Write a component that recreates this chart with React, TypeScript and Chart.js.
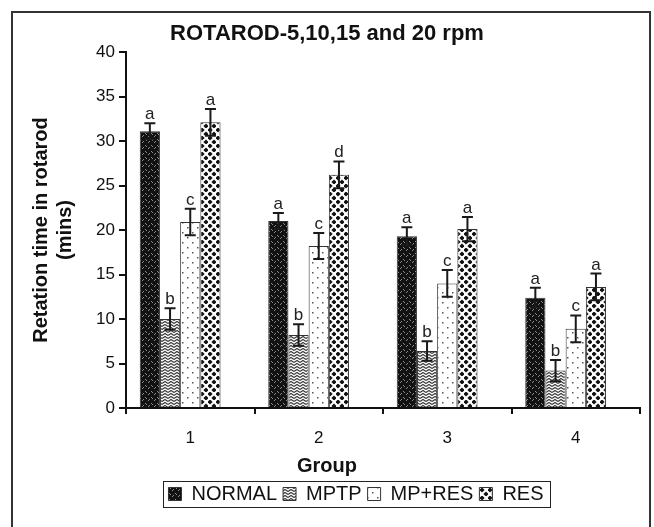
import React, { useEffect, useRef } from 'react';
import { Chart, registerables } from 'chart.js';

Chart.register(...registerables);

const categories = ['1', '2', '3', '4'];
const seriesNames = ['NORMAL', 'MPTP', 'MP+RES', 'RES'];

const normalValues = [31.1, 21.0, 19.3, 12.4];
const mptpValues = [10.0, 8.2, 6.4, 4.2];
const mpresValues = [20.9, 18.2, 14.0, 8.9];
const resValues = [32.1, 26.2, 20.1, 13.6];

const normalErrors = [0.9, 0.9, 1.0, 1.1];
const mptpErrors = [1.2, 1.2, 1.1, 1.2];
const mpresErrors = [1.5, 1.45, 1.5, 1.5];
const resErrors = [1.5, 1.5, 1.35, 1.5];

const normalLetters = ['a', 'a', 'a', 'a'];
const mptpLetters = ['b', 'b', 'b', 'b'];
const mpresLetters = ['c', 'c', 'c', 'c'];
const resLetters = ['a', 'd', 'a', 'a'];

const yTicks = [0, 5, 10, 15, 20, 25, 30, 35, 40];

const FONT = '"Liberation Sans", Arial, sans-serif';

function makePattern(kind: string): CanvasPattern | string {
  const c = document.createElement('canvas');
  const g = c.getContext('2d');
  if (!g) return '#888';
  if (kind === 'normal') {
    c.width = 6; c.height = 6;
    g.fillStyle = '#121212'; g.fillRect(0, 0, 6, 6);
    g.fillStyle = '#8a8a8a';
    g.fillRect(1, 1, 1, 1); g.fillRect(2, 2, 1, 1);
    g.fillRect(4, 4, 1, 1); g.fillRect(5, 3, 1, 1);
  } else if (kind === 'mptp') {
    c.width = 6; c.height = 6;
    g.fillStyle = '#ffffff'; g.fillRect(0, 0, 6, 6);
    g.strokeStyle = '#3a3a3a'; g.lineWidth = 1.2;
    g.beginPath();
    g.moveTo(0, 2.5); g.lineTo(3, 0.5); g.lineTo(6, 2.5);
    g.moveTo(0, 5.5); g.lineTo(3, 3.5); g.lineTo(6, 5.5);
    g.stroke();
  } else if (kind === 'mpres') {
    c.width = 10; c.height = 10;
    g.fillStyle = '#ffffff'; g.fillRect(0, 0, 10, 10);
    g.fillStyle = '#555';
    g.fillRect(2, 2, 1.5, 1.5); g.fillRect(7, 7, 1.5, 1.5);
  } else {
    c.width = 8; c.height = 8;
    g.fillStyle = '#ffffff'; g.fillRect(0, 0, 8, 8);
    g.fillStyle = '#111';
    const blob = (x: number, y: number) => {
      g.beginPath();
      g.moveTo(x, y - 2.6); g.lineTo(x + 2.6, y); g.lineTo(x, y + 2.6); g.lineTo(x - 2.6, y);
      g.closePath(); g.fill();
    };
    blob(2, 2); blob(6, 6); blob(10, -2); blob(-2, 10); blob(10, 10); blob(-2, -2);
  }
  const p = g.createPattern(c, 'repeat');
  return p || '#888';
}

const frameAndExtras = {
  id: 'frameAndExtras',
  afterLayout(chart: any) {
    const lg = chart.legend;
    if (lg) {
      lg.left += 29;
      lg.right += 29;
    }
  },
  afterDatasetsDraw(chart: any) {
    const ctx = chart.ctx;
    const yScale = chart.scales.y;
    const values = [normalValues, mptpValues, mpresValues, resValues];
    const errors = [normalErrors, mptpErrors, mpresErrors, resErrors];
    const letters = [normalLetters, mptpLetters, mpresLetters, resLetters];
    ctx.save();
    for (let d = 0; d < 4; d++) {
      const meta = chart.getDatasetMeta(d);
      meta.data.forEach((bar: any, i: number) => {
        const v = values[d][i];
        const e = errors[d][i];
        const yTop = yScale.getPixelForValue(v + e);
        const yBot = yScale.getPixelForValue(v - e);
        const x = bar.x;
        ctx.strokeStyle = '#1a1a1a';
        ctx.lineWidth = 2;
        ctx.beginPath();
        ctx.moveTo(x, yTop); ctx.lineTo(x, yBot);
        ctx.moveTo(x - 5.5, yTop); ctx.lineTo(x + 5.5, yTop);
        ctx.moveTo(x - 5.5, yBot); ctx.lineTo(x + 5.5, yBot);
        ctx.stroke();
        ctx.fillStyle = '#222';
        ctx.font = '17px ' + FONT;
        ctx.textAlign = 'center';
        ctx.textBaseline = 'alphabetic';
        ctx.fillText(letters[d][i], x, yTop - 4);
      });
    }
    ctx.restore();
  },
  afterDraw(chart: any) {
    const ctx = chart.ctx;
    ctx.save();
    const lg = chart.legend;
    if (lg && lg.legendHitBoxes && lg.legendHitBoxes.length) {
      const hb = lg.legendHitBoxes;
      let l = Infinity, r = -Infinity, t = Infinity, b = -Infinity;
      hb.forEach((h: any) => {
        l = Math.min(l, h.left); r = Math.max(r, h.left + h.width);
        t = Math.min(t, h.top); b = Math.max(b, h.top + h.height);
      });
      ctx.strokeStyle = '#222';
      ctx.lineWidth = 1;
      ctx.strokeRect(Math.round(l - 5) + 0.5, Math.round(t - 3) + 0.5, Math.round(r - l + 12), Math.round(b - t + 6));
    }
    ctx.strokeStyle = '#333';
    ctx.lineWidth = 2;
    ctx.strokeRect(12, 12, 638, 540);
    ctx.restore();
  },
};

export default function App() {
  const ref = useRef<HTMLCanvasElement>(null);
  useEffect(() => {
    document.body.style.margin = '0';
    const canvas = ref.current;
    if (!canvas) return;
    const patterns = [makePattern('normal'), makePattern('mptp'), makePattern('mpres'), makePattern('res')];
    const seriesValues = [normalValues, mptpValues, mpresValues, resValues];
    const datasets: any[] = seriesNames.map((name, i) => ({
      label: name,
      data: seriesValues[i],
      backgroundColor: patterns[i],
      borderColor: '#333',
      borderWidth: 1,
      categoryPercentage: 0.786,
      barPercentage: 1,
    }));
    datasets.push({
      label: '',
      data: categories.map(() => null),
      backgroundColor: 'rgba(0,0,0,0)',
      borderWidth: 0,
      categoryPercentage: 0.786,
      barPercentage: 1,
    });
    const chart = new Chart(canvas, {
      type: 'bar',
      data: { labels: categories, datasets },
      options: {
        responsive: false,
        animation: false,
        devicePixelRatio: 1,
        layout: { padding: { left: 14, right: 14, top: 12, bottom: 13 } },
        plugins: {
          title: {
            display: true,
            text: 'ROTAROD-5,10,15 and 20 rpm',
            color: '#111',
            font: { family: FONT, size: 22, weight: 'bold', lineHeight: 1.2 },
            padding: { top: 9, bottom: 4.6 },
          },
          subtitle: {
            display: true,
            text: 'Group',
            position: 'bottom',
            weight: 500,
            color: '#111',
            font: { family: FONT, size: 20, weight: 'bold', lineHeight: 1.2 },
            padding: { top: 2, bottom: 0 },
          },
          legend: {
            display: true,
            position: 'bottom',
            labels: {
              color: '#111',
              boxWidth: 13,
              boxHeight: 13,
              padding: 6,
              font: { family: FONT, size: 20 },
              filter: (item: any) => item.datasetIndex < 4,
            },
          },
          tooltip: { enabled: false },
        },
        scales: {
          x: {
            afterFit: (s: any) => { s.height = 44; },
            ticks: { color: '#111', padding: 14, font: { family: FONT, size: 17 } },
            grid: { drawOnChartArea: false, drawTicks: true, tickLength: 6, offset: true, color: '#111', lineWidth: 2 },
            border: { display: true, color: '#111', width: 2 },
          },
          y: {
            min: 0,
            max: 40,
            afterFit: (s: any) => { s.width = 112; },
            afterBuildTicks: (s: any) => { s.ticks = yTicks.map((v) => ({ value: v })); },
            ticks: { color: '#111', padding: 4, font: { family: FONT, size: 17 } },
            grid: { drawOnChartArea: false, drawTicks: true, tickLength: 7, color: '#111', lineWidth: 2 },
            border: { display: true, color: '#111', width: 2 },
            title: {
              display: true,
              text: ['Retation time in rotarod', '(mins)'],
              color: '#111',
              font: { family: FONT, size: 20, weight: 'bold', lineHeight: 1.2 },
              padding: { top: 15, bottom: 0 },
            },
          },
        },
      } as any,
      plugins: [frameAndExtras],
    });
    return () => chart.destroy();
  }, []);
  return (
    <div style={{ width: 654, height: 527, overflow: 'hidden', background: '#fff' }}>
      <canvas ref={ref} width={654} height={527} style={{ display: 'block' }} />
    </div>
  );
}
